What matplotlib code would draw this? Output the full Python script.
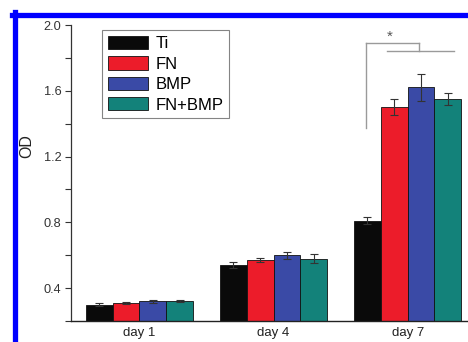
import matplotlib
matplotlib.use('Agg')
import matplotlib.pyplot as plt
import numpy as np
from matplotlib.lines import Line2D
from matplotlib.ticker import MultipleLocator

plt.rcParams['font.family'] = ['Liberation Sans', 'DejaVu Sans']

# ── Data ────────────────────────────────────────────────────────
days = ['day 1', 'day 4', 'day 7']
groups = ['Ti', 'FN', 'BMP', 'FN+BMP']
colors = ['#0a0a0a', '#ec1c2a', '#3a4aa6', '#13827a']

od_ti = [0.30, 0.54, 0.81]
od_fn = [0.31, 0.57, 1.50]
od_bmp = [0.32, 0.60, 1.62]
od_fnbmp = [0.32, 0.58, 1.55]

err_ti = [0.008, 0.02, 0.02]
err_fn = [0.006, 0.012, 0.05]
err_bmp = [0.008, 0.02, 0.08]
err_fnbmp = [0.006, 0.025, 0.035]

values = [od_ti, od_fn, od_bmp, od_fnbmp]
errors = [err_ti, err_fn, err_bmp, err_fnbmp]

# ── Figure ──────────────────────────────────────────────────────
fig = plt.figure(figsize=(4.68, 3.42), dpi=100)
W, H = 468, 342
ax = fig.add_axes([71 / W, 1 - 321 / H, 1 - 71 / W, (321 - 25) / H])

x = np.arange(len(days))
width = 0.2
for i, (g, c) in enumerate(zip(groups, colors)):
    pos = x + (i - 1.5) * width
    ax.bar(pos, values[i], width, color=c, edgecolor='#111111',
           linewidth=0.6, label=g, zorder=2)
    ax.errorbar(pos, values[i], yerr=errors[i], fmt='none',
                ecolor='#333333', elinewidth=0.8, capsize=3,
                capthick=0.8, zorder=3)

ax.set_xlim(-0.51, 2.45)
ax.set_ylim(0.2, 2.0)
ax.set_xticks(x)
ax.set_xticklabels(days, fontsize=9.5, color='#222222')
ax.tick_params(axis='x', length=0, pad=4)
ax.yaxis.set_major_locator(MultipleLocator(0.4))
ax.yaxis.set_minor_locator(MultipleLocator(0.2))
ax.set_yticks([0.4, 0.8, 1.2, 1.6, 2.0])
ax.tick_params(axis='y', which='major', length=4.5, width=0.8,
               labelsize=9.2, labelcolor='#333333', color='#333333', pad=2.5)
ax.tick_params(axis='y', which='minor', length=4.5, width=0.8,
               color='#333333')
ax.set_ylabel('OD', fontsize=11.5, color='#222222')
ax.yaxis.set_label_coords(-0.092, 0.59)

for s in ['top', 'right']:
    ax.spines[s].set_visible(False)
ax.spines['left'].set_color('#333333')
ax.spines['bottom'].set_color('#222222')
ax.spines['left'].set_linewidth(0.9)
ax.spines['bottom'].set_linewidth(1.0)

# ── Significance bracket ────────────────────────────────────────
br = '#9a9a9a'
ax.plot([1.692, 1.692], [1.375, 1.892], color=br, lw=1.0, zorder=4)
ax.plot([1.692, 2.082], [1.892, 1.892], color=br, lw=1.0, zorder=4)
ax.plot([2.082, 2.082], [1.892, 1.841], color=br, lw=1.0, zorder=4)
ax.plot([1.843, 2.343], [1.841, 1.841], color=br, lw=1.0, zorder=4)
ax.text(1.866, 1.93, '*', ha='center', va='center', fontsize=11,
        color='#555555')

# ── Legend ──────────────────────────────────────────────────────
leg = ax.legend(loc='upper left', bbox_to_anchor=(31 / 397, 1 - 5 / 296),
                fontsize=12, frameon=True, fancybox=False,
                edgecolor='#666666', handlelength=2.4, handleheight=0.85,
                handletextpad=0.45, labelspacing=0.3, borderpad=0.35,
                borderaxespad=0)
leg.get_frame().set_linewidth(0.8)

# ── Blue frame ──────────────────────────────────────────────────
blue = '#0000ff'
fig.add_artist(Line2D([12 / W, 1], [1 - 14.5 / H, 1 - 14.5 / H],
                      color=blue, lw=3.8, transform=fig.transFigure))
fig.add_artist(Line2D([14.5 / W, 14.5 / W], [0, 1 - 12 / H],
                      color=blue, lw=3.8, transform=fig.transFigure))

fig.savefig('out.png', dpi=100)
